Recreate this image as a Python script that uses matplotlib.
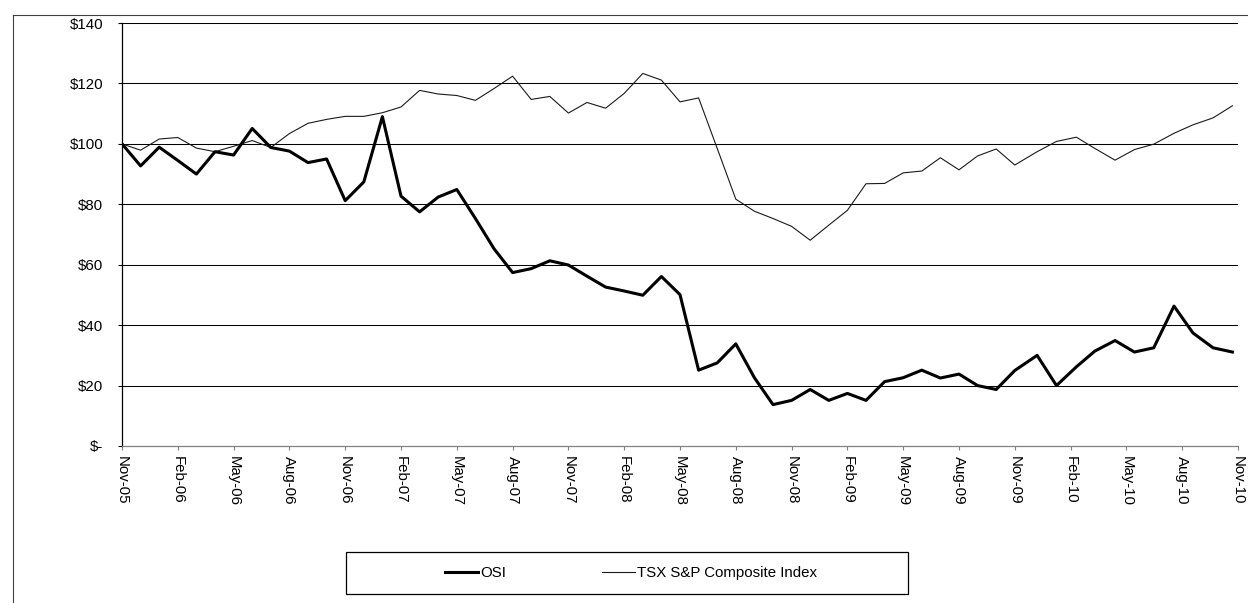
import matplotlib
matplotlib.use("Agg")
import matplotlib.pyplot as plt
from matplotlib.lines import Line2D
from matplotlib.patches import Rectangle

plt.rcParams['font.family'] = ['Liberation Sans', 'DejaVu Sans']

# ---- data -------------------------------------------------------------
# x positions in months after Nov-2005 (monthly up to Nov-09, then slightly wider steps)
months = list(range(49)) + [49.2, 50.24, 51.31, 52.3, 53.39, 54.43, 55.47,
                            56.56, 57.58, 58.66, 59.70]

osi = [100, 92.7, 98.9, 94.5, 90.0, 97.4, 96.3, 105.1, 98.8, 97.6,
       93.8, 95.0, 81.2, 87.4, 109.0, 82.7, 77.5, 82.4, 84.9, 75.3,
       65.3, 57.4, 58.7, 61.3, 59.9, 56.2, 52.6, 51.3, 49.9, 56.1,
       50.1, 25.1, 27.5, 33.8, 22.6, 13.7, 15.1, 18.7, 15.1, 17.4,
       15.1, 21.3, 22.6, 25.1, 22.5, 23.8, 20.0, 18.7, 25.0, 30.0,
       20.0, 26.2, 31.4, 34.9, 31.1, 32.5, 46.3, 37.4, 32.5, 31.1]

tsx = [100, 97.9, 101.6, 102.1, 98.6, 97.4, 99.2, 101.1, 98.8, 103.4,
       106.8, 108.1, 109.1, 109.1, 110.3, 112.2, 117.7, 116.5, 116.0, 114.4,
       118.3, 122.4, 114.7, 115.7, 110.2, 113.7, 111.8, 116.7, 123.3, 121.1,
       113.9, 115.2, 98.5, 81.7, 77.7, 75.3, 72.7, 68.1, 73.1, 78.0,
       86.8, 86.9, 90.4, 91.0, 95.4, 91.4, 96.0, 98.3, 93.0, 97.4,
       100.8, 102.2, 98.5, 94.6, 98.1, 99.9, 103.5, 106.3, 108.6, 112.6]

tick_months = list(range(0, 61, 3))
tick_labels = ['Nov-05', 'Feb-06', 'May-06', 'Aug-06', 'Nov-06', 'Feb-07', 'May-07',
               'Aug-07', 'Nov-07', 'Feb-08', 'May-08', 'Aug-08', 'Nov-08', 'Feb-09',
               'May-09', 'Aug-09', 'Nov-09', 'Feb-10', 'May-10', 'Aug-10', 'Nov-10']
y_ticks = [0, 20, 40, 60, 80, 100, 120, 140]
y_labels = ['$-', '$20', '$40', '$60', '$80', '$100', '$120', '$140']
series_names = ['OSI', 'TSX S&P Composite Index']

# ---- figure -----------------------------------------------------------
W, H = 1248, 603
fig = plt.figure(figsize=(W / 100, H / 100), dpi=100)

def fx(px):
    return px / W

def fy(py):
    return 1 - py / H

left, right, top, bottom = 122, 1238, 23, 446
ax = fig.add_axes([fx(left), fy(bottom), fx(right - left), (bottom - top) / H])

fs = 10.8
ax.plot(months, osi, color='black', lw=2.2, label=series_names[0], zorder=4)
ax.plot(months, tsx, color='#1a1a1a', lw=0.8, label=series_names[1], zorder=3)

ax.set_xlim(0, 60)
ax.set_ylim(0, 140)

ax.set_yticks(y_ticks)
ax.set_yticklabels(y_labels, fontsize=fs)
ax.set_xticks(tick_months)
ax.set_xticklabels(tick_labels, fontsize=fs, rotation=-90, ha='center', va='top')

ax.tick_params(axis='y', direction='out', length=3, width=0.8, color='black', pad=10.5)
ax.tick_params(axis='x', direction='out', length=3, width=0.8, color='#808080', pad=4)

for yv in y_ticks[1:]:
    ax.axhline(yv, color='black', lw=0.75, zorder=1)

for s in ['top', 'right']:
    ax.spines[s].set_visible(False)
ax.spines['left'].set_color('black')
ax.spines['left'].set_linewidth(0.9)
ax.spines['bottom'].set_color('#808080')
ax.spines['bottom'].set_linewidth(0.9)

# outer chart-area frame (top and left edges visible)
fig.add_artist(Line2D([fx(12.5), fx(W)], [fy(14.5), fy(14.5)], color='#404040', lw=0.8))
fig.add_artist(Line2D([fx(12.5), fx(12.5)], [fy(14.5), fy(H)], color='#404040', lw=0.8))

# legend box
bx0, bx1, by0, by1 = 346, 908, 552, 594
fig.add_artist(Rectangle((fx(bx0), fy(by1)), fx(bx1 - bx0), (by1 - by0) / H,
                         fill=False, edgecolor='black', lw=0.9))
leg = fig.legend(loc='center', bbox_to_anchor=(fx(631), fy(573)), ncol=2,
                 frameon=False, fontsize=fs, handlelength=2.2, handletextpad=0.15,
                 columnspacing=6.4)

fig.savefig('out.png', dpi=100)
